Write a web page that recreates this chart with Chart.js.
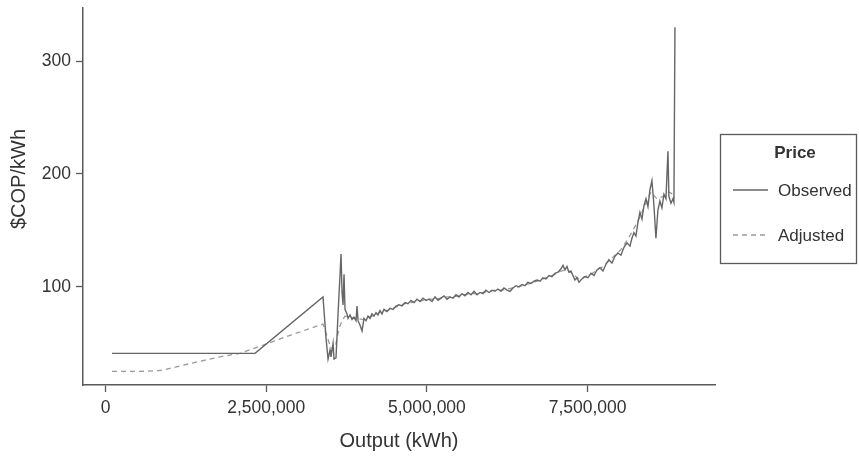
<!DOCTYPE html>
<html>
<head>
<meta charset="utf-8">
<script src="https://cdn.jsdelivr.net/npm/chart.js@4"></script>
<style>
  html, body { margin: 0; padding: 0; background: #fff; }
  #chart { display: block; }
</style>
</head>
<body>
<canvas id="chart" width="859" height="457"></canvas>
<script>
// price vs output - observed and adjusted series

const xTicks = [0, 2500000, 5000000, 7500000];
const yTicks = [100, 200, 300];

const obsX = [
  101000, 2326000, 3384000, 3430000, 3462000, 3493000, 3508000, 3540000, 3555000, 3586000,
  3617000, 3648000, 3664000, 3680000, 3695000, 3711000, 3726000, 3757000, 3773000, 3804000,
  3835000, 3866000, 3897000, 3913000, 3929000, 3960000, 3991000, 4022000, 4053000, 4084000,
  4115000, 4146000, 4177000, 4208000, 4239000, 4270000, 4301000,
  4333000, 4379000, 4426000, 4473000, 4519000, 4566000, 4613000, 4659000, 4706000, 4753000,
  4799000, 4846000, 4893000, 4939000, 4986000, 5033000, 5079000, 5126000, 5173000, 5219000,
  5266000, 5313000, 5359000, 5406000, 5453000, 5499000, 5546000, 5593000, 5639000, 5686000,
  5733000, 5779000, 5826000, 5873000, 5919000, 5966000, 6012000, 6059000, 6106000, 6152000,
  6199000, 6246000, 6292000, 6339000, 6386000, 6432000, 6479000, 6526000, 6572000, 6619000,
  6666000, 6712000, 6759000, 6806000, 6852000, 6899000, 6946000, 6992000, 7039000, 7086000,
  7117000, 7148000, 7179000, 7210000, 7241000, 7272000, 7303000, 7334000, 7366000, 7412000,
  7459000, 7506000, 7552000, 7599000, 7646000, 7692000, 7739000, 7786000, 7832000, 7879000,
  7926000, 7972000, 8019000, 8066000, 8112000, 8159000, 8190000, 8221000, 8252000, 8283000,
  8314000, 8346000, 8377000, 8408000, 8439000, 8470000, 8501000, 8532000, 8563000, 8594000,
  8625000, 8656000, 8688000, 8719000, 8750000, 8765000, 8797000, 8828000, 8843000, 8859000
];
const obsY = [
  41, 41, 91, 55, 36, 44, 38, 50, 36, 37,
  75, 110, 129, 95, 84, 111, 80, 76, 72, 75,
  71, 73, 70, 83, 70, 66, 61, 72, 70, 74,
  72, 76, 74, 77, 75, 79, 76,
  80, 78, 81, 80, 83, 84, 83, 86, 85, 88,
  86, 89, 87, 90, 88, 89, 87, 91, 88, 90,
  92, 89, 91, 90, 93, 91, 94, 92, 95, 93,
  96, 93, 95, 94, 97, 95, 97, 96, 98, 96,
  99, 97, 96, 99, 101, 100, 102, 101, 104, 103,
  105, 106, 105, 108, 107, 110, 109, 112, 113, 116,
  119, 115, 118, 113, 114, 110, 106, 108, 104, 107,
  109, 108, 112, 110, 115, 117, 114, 120, 124, 121,
  127, 130, 128, 135, 139, 136, 143, 148, 145, 157,
  166, 160, 172, 178, 171, 186, 194, 172, 143, 168,
  176, 170, 182, 178, 220, 180, 174, 178, 175, 330
];

const adjX = [
  101000, 537000, 879000, 1315000, 1781000, 2092000, 2435000, 2870000, 3384000, 3446000,
  3493000, 3540000, 3586000, 3633000, 3680000,
  3726000, 3819000, 3913000, 4006000, 4099000, 4193000, 4286000, 4379000, 4473000, 4566000,
  4659000, 4753000, 4846000, 4939000, 5033000, 5126000, 5219000, 5313000, 5406000, 5499000,
  5593000, 5686000, 5779000, 5873000, 5966000, 6059000, 6152000, 6246000, 6339000, 6432000,
  6526000, 6619000, 6712000, 6806000, 6899000, 6992000, 7086000, 7179000, 7272000, 7366000,
  7459000, 7552000, 7646000, 7739000, 7832000, 7926000, 8019000, 8112000, 8205000, 8299000,
  8392000, 8485000, 8578000, 8672000, 8765000, 8828000
];
const adjY = [
  25, 25, 26, 32, 38, 41, 48, 57, 67, 56,
  48, 44, 50, 63, 70,
  74, 73, 72, 71, 73, 75, 78, 79, 81, 83,
  85, 86, 87, 88, 89, 89, 90, 91, 91, 92,
  93, 94, 94, 95, 96, 97, 97, 98, 99, 100,
  102, 103, 105, 107, 109, 111, 114, 115, 111, 107,
  109, 111, 115, 118, 123, 128, 133, 141, 150, 160,
  172, 184, 178, 180, 184, 182
];

const FONT = '"Liberation Sans", Arial, sans-serif';
const AXIS = '#5a5a5a';
const TEXT = '#333333';

const toPts = (xs, ys) => xs.map((x, i) => ({ x, y: ys[i] }));

// titles + boxed legend drawn by hand
const extras = {
  id: 'extras',
  afterDraw(chart) {
    const ctx = chart.ctx;
    const ca = chart.chartArea;
    ctx.save();
    ctx.fillStyle = TEXT;
    ctx.font = '20px ' + FONT;
    ctx.textAlign = 'center';
    ctx.textBaseline = 'middle';
    ctx.fillText('Output (kWh)', (ca.left + ca.right) / 2, 441);
    ctx.save();
    ctx.translate(19, 179);
    ctx.rotate(-Math.PI / 2);
    ctx.fillText('$COP/kWh', 0, 0);
    ctx.restore();

    // legend
    ctx.strokeStyle = AXIS;
    ctx.lineWidth = 1.3;
    ctx.strokeRect(720.5, 134.5, 136, 129);
    ctx.font = 'bold 17px ' + FONT;
    ctx.fillText('Price', 795, 153);
    ctx.font = '17px ' + FONT;
    ctx.textAlign = 'left';
    ctx.fillText('Observed', 778, 191);
    ctx.fillText('Adjusted', 778, 236);
    ctx.lineWidth = 1.4;
    ctx.strokeStyle = '#666666';
    ctx.beginPath(); ctx.moveTo(733, 190); ctx.lineTo(768, 190); ctx.stroke();
    ctx.strokeStyle = '#9a9a9a';
    ctx.setLineDash([5, 4]);
    ctx.beginPath(); ctx.moveTo(733, 235); ctx.lineTo(768, 235); ctx.stroke();
    ctx.restore();
  }
};

new Chart(document.getElementById('chart').getContext('2d'), {
  type: 'line',
  data: {
    datasets: [
      { label: 'Observed', data: toPts(obsX, obsY), borderColor: '#666666', borderWidth: 1.4,
        pointRadius: 0, tension: 0, fill: false },
      { label: 'Adjusted', data: toPts(adjX, adjY), borderColor: '#9a9a9a', borderWidth: 1.3,
        borderDash: [5, 4], pointRadius: 0, tension: 0, fill: false }
    ]
  },
  options: {
    responsive: false, animation: false, devicePixelRatio: 1,
    layout: { padding: { left: 0, top: 8, right: 144, bottom: 0 } },
    plugins: { legend: { display: false }, tooltip: { enabled: false } },
    scales: {
      x: {
        type: 'linear', min: -350000, max: 9482000,
        afterBuildTicks: s => { s.ticks = xTicks.map(v => ({ value: v })); },
        afterFit: s => { s.height = 72; s.paddingLeft = 0; s.paddingRight = 0; },
        ticks: { color: TEXT, font: { family: FONT, size: 17.5 }, padding: 6, maxRotation: 0,
                 callback: v => v.toLocaleString('en-US') },
        grid: { drawOnChartArea: false, drawTicks: true, tickLength: 7, tickColor: AXIS, tickWidth: 1.3 },
        border: { color: AXIS, width: 1.5 }
      },
      y: {
        min: 13, max: 347,
        afterBuildTicks: s => { s.ticks = yTicks.map(v => ({ value: v })); },
        afterFit: s => { s.width = 83; s.paddingTop = 0; s.paddingBottom = 0; },
        ticks: { color: TEXT, font: { family: FONT, size: 17.5 }, padding: 5 },
        grid: { drawOnChartArea: false, drawTicks: true, tickLength: 7, tickColor: AXIS, tickWidth: 1.3 },
        border: { color: AXIS, width: 1.5 }
      }
    }
  },
  plugins: [extras]
});
</script>
</body>
</html>
